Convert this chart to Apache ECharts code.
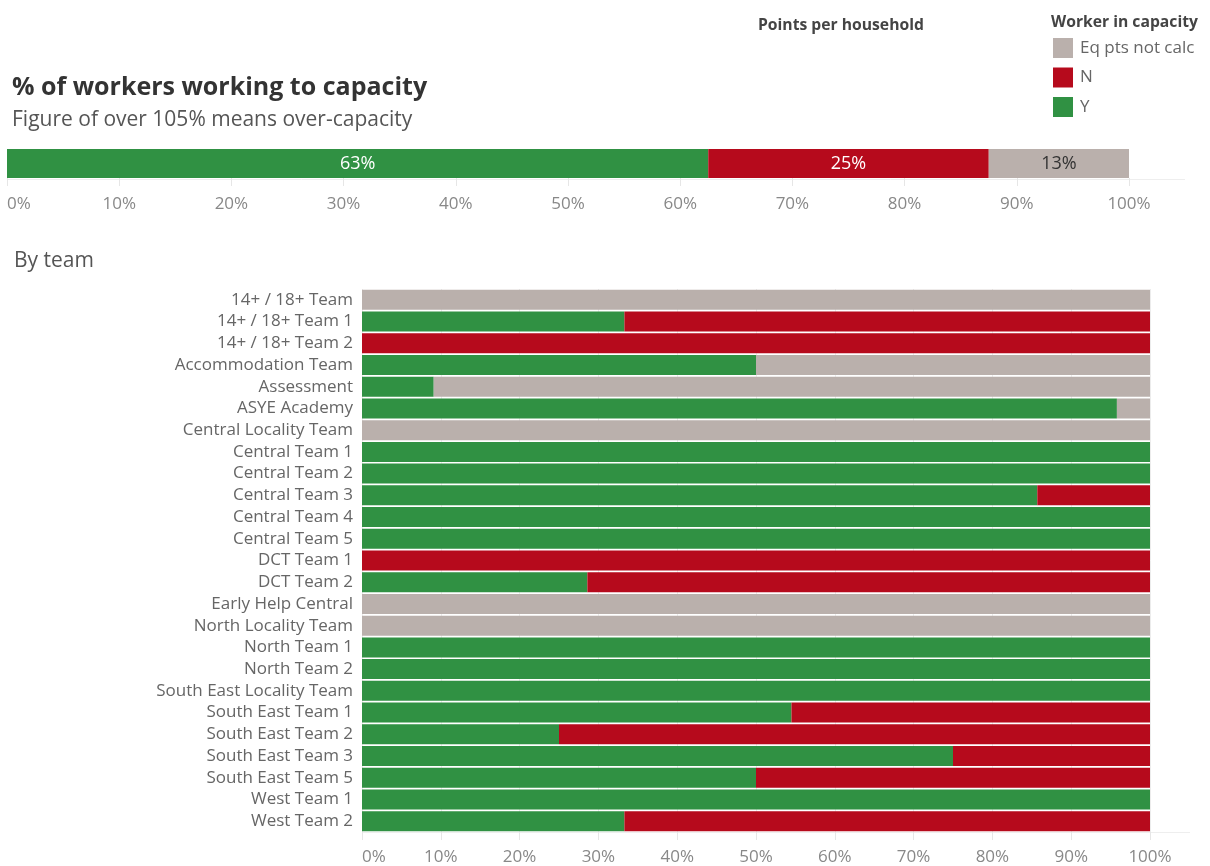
<!DOCTYPE html>
<html>
<head>
<meta charset="utf-8">
<script src="https://cdn.jsdelivr.net/npm/echarts@6/dist/echarts.min.js"></script>
<style>
html,body{margin:0;padding:0;background:#fff;}
#chart{width:1210px;height:866px;}
</style>
</head>
<body>
<div id="chart"></div>
<script>
// ---- Data ----
const overallCategory = ['All workers'];
const overallY = [62.5];
const overallN = [25];
const overallNotCalc = [12.5];

const teams = [
  '14+ / 18+ Team', '14+ / 18+ Team 1', '14+ / 18+ Team 2', 'Accommodation Team',
  'Assessment', 'ASYE Academy', 'Central Locality Team', 'Central Team 1',
  'Central Team 2', 'Central Team 3', 'Central Team 4', 'Central Team 5',
  'DCT Team 1', 'DCT Team 2', 'Early Help Central', 'North Locality Team',
  'North Team 1', 'North Team 2', 'South East Locality Team', 'South East Team 1',
  'South East Team 2', 'South East Team 3', 'South East Team 5', 'West Team 1', 'West Team 2'
];
const teamY = [0, 33.3, 0, 50, 9.1, 95.8, 0, 100, 100, 85.7, 100, 100, 0, 28.6, 0, 0, 100, 100, 100, 54.5, 25, 75, 50, 100, 33.3];
const teamN = [0, 66.7, 100, 0, 0, 0, 0, 0, 0, 14.3, 0, 0, 100, 71.4, 0, 0, 0, 0, 0, 45.5, 75, 25, 50, 0, 66.7];
const teamNotCalc = [100, 0, 0, 50, 90.9, 4.2, 100, 0, 0, 0, 0, 0, 0, 0, 100, 100, 0, 0, 0, 0, 0, 0, 0, 0, 0];

const pctTicks = [0, 10, 20, 30, 40, 50, 60, 70, 80, 90, 100];

const FONT = 'Open Sans';
const C_Y = '#309143', C_N = '#b60a1c', C_G = '#bab0ac';
const chart = echarts.init(document.getElementById('chart'));

const pctAxis = (gi, labelMargin) => ({
  type: 'value', gridIndex: gi, min: pctTicks[0], max: pctTicks[pctTicks.length - 1], interval: pctTicks[1] - pctTicks[0],
  axisLine: {show: false},
  axisTick: {show: true, length: 8, lineStyle: {color: '#e6e6e6'}},
  splitLine: {show: gi === 1, lineStyle: {color: '#ececec'}},
  axisLabel: {formatter: '{value}%', color: '#888', fontFamily: FONT, fontSize: 17, margin: labelMargin,
              alignMinLabel: 'left'}
});

const mkTop = (name, data, color, labelColor) => ({
  name, type: 'bar', stack: 'top', xAxisIndex: 0, yAxisIndex: 0, data, barWidth: 29,
  itemStyle: {color},
  label: {show: true, position: 'inside', color: labelColor, fontFamily: FONT, fontSize: 18,
          formatter: p => Math.round(p.value) + '%'}
});
const mkTeam = (name, data, color) => ({
  name, type: 'bar', stack: 'team', xAxisIndex: 1, yAxisIndex: 1, data, barWidth: 20,
  itemStyle: {color}
});

chart.setOption({
  animation: false,
  textStyle: {fontFamily: FONT},
  title: [
    {text: '% of workers working to capacity', left: 12, top: 75, padding: 0,
     textStyle: {fontFamily: FONT, fontSize: 25, fontWeight: 'bold', color: '#333'}},
    {text: 'Figure of over 105% means over-capacity', left: 12, top: 110, padding: 0,
     textStyle: {fontFamily: FONT, fontSize: 21, fontWeight: 'normal', color: '#555'}},
    {text: 'By team', left: 14, top: 251, padding: 0,
     textStyle: {fontFamily: FONT, fontSize: 21, fontWeight: 'normal', color: '#555'}},
    {text: 'Points per household', left: 758, top: 18, padding: 0,
     textStyle: {fontFamily: FONT, fontSize: 15.7, fontWeight: 'bold', color: '#444'}},
    {text: 'Worker in capacity', left: 1051, top: 15, padding: 0,
     textStyle: {fontFamily: FONT, fontSize: 15.7, fontWeight: 'bold', color: '#444'}}
  ],
  legend: {
    orient: 'vertical', left: 1053, top: 38, padding: 0, itemWidth: 20, itemHeight: 20, itemGap: 9.5,
    icon: 'rect', data: ['Eq pts not calc', 'N', 'Y'],
    textStyle: {fontFamily: FONT, fontSize: 17, color: '#666', padding: [0, 0, 0, 2]},
    selectedMode: false
  },
  grid: [
    {left: 7, right: 81, top: 149, height: 29},
    {left: 362, right: 60, top: 289, bottom: 33}
  ],
  xAxis: [pctAxis(0, 18), pctAxis(1, 17)],
  yAxis: [
    {type: 'category', gridIndex: 0, data: overallCategory, show: false},
    {type: 'category', gridIndex: 1, data: teams, inverse: true,
     axisLine: {show: false}, axisTick: {show: false},
     axisLabel: {interval: 0, color: '#666', fontFamily: FONT, fontSize: 17, lineHeight: 20, margin: 9}}
  ],
  graphic: [
    {type: 'line', shape: {x1: 7, y1: 179.5, x2: 1185, y2: 179.5}, style: {stroke: '#eeeeee', lineWidth: 1}},
    {type: 'line', shape: {x1: 362, y1: 832.5, x2: 1190, y2: 832.5}, style: {stroke: '#eeeeee', lineWidth: 1}}
  ],
  series: [
    mkTop('Y', overallY, C_Y, '#fff'),
    mkTop('N', overallN, C_N, '#fff'),
    mkTop('Eq pts not calc', overallNotCalc, C_G, '#333'),
    mkTeam('Y', teamY, C_Y),
    mkTeam('N', teamN, C_N),
    mkTeam('Eq pts not calc', teamNotCalc, C_G)
  ]
});
</script>
</body>
</html>
